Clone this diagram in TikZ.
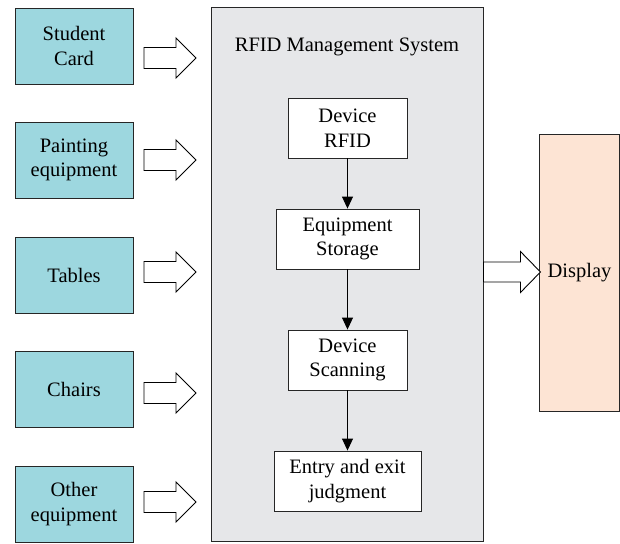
\documentclass[tikz,border=0pt]{standalone}
\usepackage{fontspec}
\setmainfont{Liberation Serif}
\usetikzlibrary{arrows.meta}
\definecolor{itemfill}{HTML}{9DD7DF}
\definecolor{sysfill}{HTML}{E6E7E9}
\definecolor{dispfill}{HTML}{FDE4D4}
\tikzset{
  txt/.style={font=\rmfamily\fontsize{20.5}{24.5}\selectfont},
  base/.style={txt, draw=black!85, line width=0.9pt, align=center, inner sep=0pt},
  itembox/.style={base, fill=itemfill, minimum width=118pt, minimum height=76pt},
  stepbox/.style={base, fill=white, minimum height=60pt},
  flow/.style={line width=0.9pt, -{Triangle[length=12pt,width=11pt]}},
  pics/blockarrow/.style n args={3}{code={
    \draw[line width=0.9pt, fill=white]
      (0,-#2) -- (#1,-#2) -- (#1,-#3) -- (#1+20,0) -- (#1,#3) -- (#1,#2) -- (0,#2) -- cycle;
  }}
}
\begin{document}
\begin{tikzpicture}[x=1pt,y=-1pt]
\useasboundingbox (0,0) rectangle (620,543);

% system frame
\node[base, fill=sysfill, minimum width=272pt, minimum height=534pt] (sys) at (347,274.5) {};
\node[txt] (title) at (347,47) {RFID Management System};

% input items
\node[itembox] (card)  at (74,46)  {Student\\Card};
\node[itembox] (paint) at (74,160) {Painting\\equipment};
\node[itembox] (table) at (74,275) {Tables};
\node[itembox] (chair) at (74,389) {Chairs};
\node[itembox] (other) at (74,504) {Other\\equipment};

% processing steps
\node[stepbox, minimum width=119pt] (rfid) at (347.5,128) {Device\\RFID};
\node[stepbox, minimum width=143pt] (store) at (347.5,239) {Equipment\\Storage};
\node[stepbox, minimum width=119pt] (scan) at (347.5,360) {Device\\Scanning};
\node[stepbox, minimum width=147pt] (judge) at (347.5,481) {Entry and exit\\judgment};

\draw[flow] (rfid) -- (store);
\draw[flow] (store) -- (scan);
\draw[flow] (scan) -- (judge);

% output
\node[base, fill=dispfill, minimum width=80pt, minimum height=277pt] (disp) at (579.5,272.5) {Display};

% hollow block arrows
\pic at (144,58)  {blockarrow={32}{10.5}{20}};
\pic at (144,160) {blockarrow={32}{10.5}{20}};
\pic at (144,272) {blockarrow={32}{10.5}{20}};
\pic at (144,393) {blockarrow={32}{10.5}{20}};
\pic at (144,502) {blockarrow={32}{10.5}{20}};
\pic at (sys.east |- 0,272) {blockarrow={37}{10}{20.5}};
\end{tikzpicture}
\end{document}
